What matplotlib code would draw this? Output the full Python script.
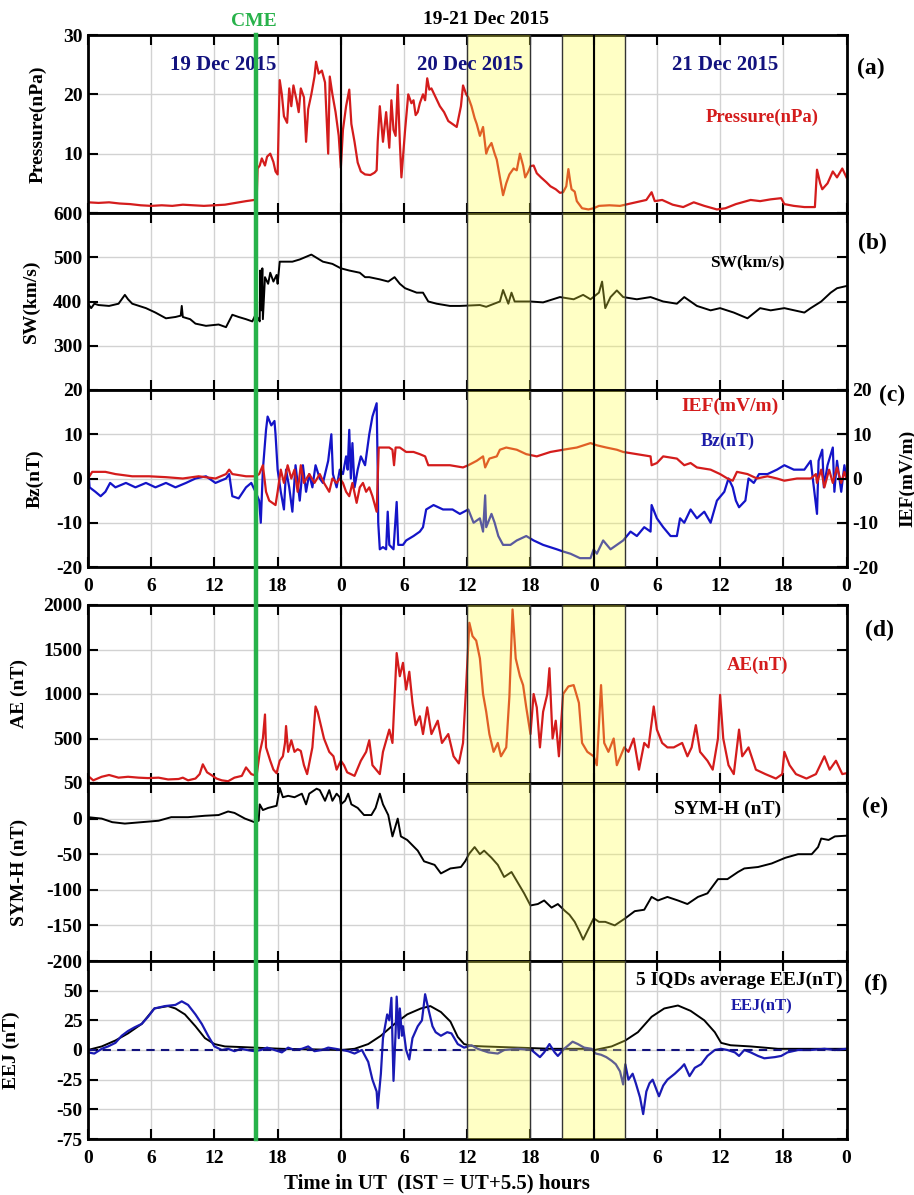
import numpy as np
import matplotlib
matplotlib.use("Agg")
import matplotlib.pyplot as plt
from matplotlib.lines import Line2D

plt.rcParams["font.family"] = ["Liberation Serif", "DejaVu Serif"]
plt.rcParams["font.weight"] = "bold"
plt.rcParams["axes.labelweight"] = "bold"
plt.rcParams["axes.unicode_minus"] = False

# ---------------------------------------------------------------------------
# data: (hour since 19 Dec 00 UT, value)
# ---------------------------------------------------------------------------
pressure = [(0, 1.8), (1, 1.7), (2, 1.8), (3, 1.6), (4, 1.5), (5, 1.3), (6, 1.2), (7, 1.3), (8, 1.2),
            (9, 1.4), (10, 1.3), (11, 1.2), (12, 1.3), (13, 1.4), (14, 1.7), (15, 2.0), (15.8, 2.2),
            (16.0, 1.8), (16.1, 7.5), (16.3, 8.0), (16.5, 9.2), (16.8, 8.0), (17.0, 9.5), (17.3, 10.0),
            (17.6, 8.6), (17.8, 7.0), (18.0, 6.5), (18.1, 15), (18.2, 22.4), (18.4, 20), (18.6, 16.3),
            (18.9, 15.2), (19.1, 21), (19.3, 18), (19.5, 21.5), (19.8, 19), (20.0, 17), (20.2, 21),
            (20.5, 19.5), (20.7, 12), (20.9, 17.5), (21.2, 20), (21.5, 23), (21.65, 25.5), (21.9, 23.5),
            (22.2, 24), (22.5, 22), (22.8, 10), (22.95, 23), (23.2, 20), (23.5, 17), (23.8, 13),
            (24.0, 7.6), (24.2, 14), (24.5, 18), (24.8, 20.8), (25.0, 15), (25.3, 12), (25.6, 8.5),
            (25.9, 7), (26.3, 6.5), (26.8, 6.4), (27.2, 6.8), (27.4, 7.2), (27.5, 12), (27.7, 18),
            (28.0, 12), (28.3, 17), (28.6, 11), (28.8, 19), (29.0, 14), (29.2, 13), (29.4, 21.6),
            (29.6, 12), (29.75, 6.0), (30.1, 14), (30.4, 20), (30.7, 18.5), (30.9, 19), (31.1, 16.5),
            (31.3, 17), (31.5, 18.5), (31.8, 20), (32.0, 19), (32.2, 22.7), (32.4, 20.8), (32.6, 21),
            (33.0, 19.5), (33.4, 18), (33.8, 17), (34.2, 15.5), (34.6, 15), (35.0, 14.5), (35.4, 18),
            (35.6, 21.5), (35.9, 20), (36.1, 19.5), (36.4, 18), (36.7, 16), (36.9, 15), (37.2, 13),
            (37.5, 14.5), (37.8, 10), (38.0, 11), (38.3, 11.8), (38.6, 10), (38.8, 9), (39.1, 6),
            (39.4, 3.0), (39.7, 5), (40.0, 6.5), (40.4, 7.5), (40.7, 7.2), (41.0, 10), (41.3, 8),
            (41.5, 6), (41.8, 7), (42.0, 7.9), (42.3, 8), (42.6, 6.7), (43.0, 6), (43.5, 5.2),
            (43.9, 4.5), (44.4, 4), (44.8, 3.4), (45.1, 3.5), (45.4, 4.5), (45.6, 7.4), (45.8, 5),
            (45.9, 4), (46.2, 3.6), (46.4, 2.0), (46.9, 0.8), (47.5, 0.6), (48.0, 0.8), (48.5, 1.2),
            (49.5, 1.3), (50.5, 1.2), (51.0, 1.4), (52.0, 1.8), (53.0, 2.2), (53.5, 3.5), (53.8, 2.0),
            (54.5, 2.2), (55.5, 1.4), (56.5, 1.0), (57.5, 1.8), (58.5, 1.2), (59.7, 0.6), (60.5, 0.8),
            (61.5, 1.5), (62.9, 2.2), (63.8, 2.0), (64.8, 2.3), (65.8, 2.5), (66.1, 1.5), (67.0, 1.2),
            (68.0, 1.0), (69.0, 1.0), (69.2, 7.3), (69.5, 5), (69.7, 4), (70.2, 5), (70.7, 7),
            (71.1, 6), (71.6, 7.5), (72.0, 6)]

solar_wind = [(0, 395), (0.3, 385), (0.6, 395), (1.0, 392), (2.0, 390), (2.9, 395), (3.5, 415), (3.8, 405),
              (4.2, 395), (5.5, 385), (6.4, 375), (7.4, 362), (8.3, 365), (8.8, 368), (8.9, 390), (9.0, 365),
              (9.7, 360), (10.2, 350), (11.2, 345), (12.4, 348), (13.1, 342), (13.7, 370), (14.3, 365),
              (15.0, 360), (15.6, 355), (15.9, 370), (16.2, 360), (16.3, 355), (16.35, 470), (16.45, 380),
              (16.55, 475), (16.6, 360), (16.8, 455), (17.1, 440), (17.3, 465), (17.6, 445), (17.9, 460),
              (18.0, 440), (18.2, 490), (19.4, 490), (20.1, 495), (21.2, 506), (22.3, 490), (23.2, 485),
              (24.0, 475), (24.8, 470), (25.8, 465), (26.3, 455), (26.7, 455), (27.7, 450), (28.5, 445),
              (29.1, 455), (29.6, 440), (30.1, 430), (31.2, 420), (31.8, 420), (32.3, 400), (33.1, 395),
              (34.35, 390), (35.3, 390), (37.2, 392), (37.8, 388), (39.1, 400), (39.4, 426), (39.9, 395),
              (40.2, 420), (40.5, 400), (42.0, 400), (43.2, 398), (44.8, 410), (46.1, 405), (47.0, 415),
              (47.7, 405), (48.5, 420), (48.8, 445), (49.1, 385), (49.6, 410), (50.2, 425), (50.8, 410),
              (52.1, 405), (53.4, 410), (54.6, 400), (55.9, 395), (56.6, 410), (57.8, 390), (59.1, 380),
              (60.0, 385), (61.3, 375), (62.6, 362), (63.8, 385), (64.8, 380), (66.1, 385), (68.0, 375),
              (68.6, 385), (69.6, 400), (70.5, 420), (71.1, 430), (72.0, 435)]

bz = [(0, 3), (0.15, -2), (0.7, -3), (1.2, -4), (1.65, -3), (2.1, -1), (2.6, -2), (3.6, -1), (4.5, -2),
      (5.5, -1), (6.4, -2), (7.4, -1), (8.3, -2), (9.3, -1), (10.2, 0), (11.2, 0.5), (12.1, -1), (13.1, 0),
      (13.4, 1), (13.7, -4), (14.3, -4.5), (15.0, -2), (15.5, -1), (15.9, -3), (16.25, -5), (16.4, -10),
      (16.6, 2), (16.9, 11), (17.05, 14), (17.4, 12), (17.7, 13), (17.8, 10), (18.0, 2), (18.3, -3),
      (18.6, -7), (18.8, 2), (19.1, -2), (19.4, -7.5), (19.7, 3), (20.1, -5), (20.4, 3), (20.7, -3),
      (21.0, 1), (21.3, -2), (21.6, 3), (22.0, 0), (22.3, -1), (22.8, 4), (23.1, 10), (23.25, 1),
      (23.6, -2), (23.9, 2), (24.2, 1), (24.5, 5), (24.65, 2), (24.8, 11), (24.95, 0), (25.1, 8),
      (25.3, -2), (25.6, 2), (25.9, 5), (26.3, 3), (26.7, 10), (27.0, 14), (27.4, 17), (27.5, 2),
      (27.55, -10), (27.7, -16), (28.0, -15.5), (28.3, -16), (28.45, -7.5), (28.6, -15), (29.0, -16),
      (29.3, -5.3), (29.45, -15), (29.9, -15), (30.2, -14), (30.9, -13), (31.5, -12), (31.8, -11),
      (32.1, -7), (32.8, -6), (33.7, -7), (34.6, -7), (35.3, -8), (36.1, -7), (36.6, -10), (37.2, -9),
      (37.5, -12), (37.7, -3.8), (37.8, -11), (38.3, -8), (38.6, -10), (38.95, -13), (39.4, -15),
      (40.1, -15), (40.7, -14), (41.6, -13), (42.3, -14), (43.2, -15), (44.5, -16), (45.1, -16.5),
      (45.8, -17), (46.7, -18), (47.7, -18), (48.0, -16), (48.3, -17), (48.9, -14), (49.6, -16),
      (50.2, -15), (50.8, -14), (51.5, -12), (52.1, -13), (52.8, -11), (53.4, -12), (53.5, -6),
      (54.0, -9), (54.6, -11), (55.3, -13), (55.9, -13), (56.2, -9), (56.6, -10), (57.2, -7), (57.8, -9),
      (58.5, -7.5), (59.1, -10), (59.7, -5), (60.4, -3), (60.8, 0), (61.2, -2), (61.5, -5), (61.8, -6.5),
      (62.4, -5), (62.7, 0), (63.2, -1), (63.7, 1), (64.5, 1), (65.4, 2), (66.1, 3), (67.0, 2), (68.0, 2),
      (68.6, 4), (68.9, -2), (69.2, -8), (69.35, 4), (69.7, 6.5), (69.85, -2), (70.2, 3), (70.7, 7),
      (70.85, -3), (71.1, 4), (71.5, -3), (71.8, 3), (72.0, 0)]

ief = [(0, 0), (0.4, 1.5), (1.65, 1.5), (2.6, 1), (4.2, 0.5), (5.8, 0.5), (7.4, 0.3), (9.0, 0), (10.5, 0.5),
       (12.1, 0), (13.1, 1), (13.4, 2), (13.7, 1), (15.0, 0.5), (15.9, 0.5), (16.25, 1), (16.6, 3),
       (16.9, -3), (17.2, -5), (17.5, -5.5), (17.8, -6), (18.0, -3), (18.3, 2), (18.6, -1), (18.95, 3),
       (19.3, 0), (19.6, 2), (19.9, -3), (20.2, 3), (20.5, -1), (21.0, 1), (21.5, -1), (22.0, 1),
       (22.4, -1), (22.9, -3), (23.2, 0), (23.6, -1), (23.9, 0), (24.2, -1), (24.5, -3), (24.8, -4),
       (25.1, -1), (25.5, -5.5), (25.8, -2), (26.1, -1), (26.4, -3), (26.7, -2), (27.0, -4), (27.4, -7.5),
       (27.5, 0), (27.6, 7), (28.0, 7), (28.6, 7), (28.9, 6.5), (29.05, 3), (29.2, 7), (29.6, 7), (30.2, 6),
       (30.9, 6), (31.5, 5.5), (32.0, 5), (32.3, 3), (33.4, 3), (34.35, 3), (35.6, 2.5), (36.1, 3),
       (36.9, 4), (37.5, 5), (37.7, 2.5), (38.1, 4.5), (38.8, 5), (39.1, 6.5), (39.7, 7), (40.7, 6.5),
       (41.6, 5.5), (42.6, 5), (43.9, 6), (45.1, 6.5), (46.4, 7), (47.7, 8), (48.3, 7.5), (49.2, 7),
       (50.2, 6.5), (50.8, 6), (52.1, 5.5), (53.4, 5), (53.5, 3), (54.0, 3.5), (54.6, 5), (55.9, 4.5),
       (56.6, 3), (57.2, 3.5), (57.8, 2.5), (59.1, 2), (60.0, 1), (60.7, 0), (61.2, -0.5), (61.6, 1.5),
       (62.6, 1), (63.5, 0), (64.5, 0.5), (65.4, 0), (66.1, -0.5), (67.3, 0), (68.6, 0), (69.1, 1),
       (69.2, -1), (69.6, 2), (69.9, -2), (70.35, 2), (70.7, -1), (71.1, 2.5), (71.5, -1), (71.8, 1.5),
       (72.0, 0)]

ae = [(0, 80), (0.5, 30), (1.3, 70), (2.0, 90), (2.9, 60), (3.8, 70), (4.8, 60), (5.7, 55), (6.7, 60),
      (7.6, 40), (8.6, 45), (9.0, 60), (9.5, 30), (10.2, 50), (10.6, 100), (10.9, 210), (11.3, 120),
      (11.7, 90), (12.2, 50), (12.7, 30), (13.3, 20), (13.9, 60), (14.6, 80), (15.0, 175), (15.5, 100),
      (16.0, 80), (16.3, 340), (16.6, 500), (16.8, 770), (16.9, 400), (17.3, 250), (17.6, 150),
      (17.9, 110), (18.2, 250), (18.5, 300), (18.7, 450), (18.8, 640), (19.0, 350), (19.3, 480),
      (19.6, 350), (19.9, 380), (20.2, 360), (20.5, 200), (20.8, 100), (21.3, 400), (21.6, 860),
      (21.8, 800), (22.1, 650), (22.4, 500), (22.9, 350), (23.3, 300), (23.6, 150), (24.0, 250),
      (24.3, 200), (24.6, 120), (25.3, 80), (25.9, 250), (26.4, 350), (26.7, 480), (27.0, 200),
      (27.7, 100), (28.0, 350), (28.6, 600), (28.9, 450), (29.3, 1460), (29.6, 1200), (29.9, 1350),
      (30.2, 1050), (30.5, 1250), (30.8, 900), (31.1, 650), (31.5, 750), (31.8, 550), (32.2, 850),
      (32.6, 550), (33.2, 700), (33.6, 450), (34.2, 550), (34.7, 300), (35.2, 220), (35.6, 450),
      (35.9, 1100), (36.2, 1800), (36.5, 1650), (36.85, 1600), (37.2, 1400), (37.5, 1000), (37.8, 800),
      (38.1, 550), (38.5, 350), (38.9, 450), (39.2, 300), (39.7, 400), (40.0, 970), (40.3, 1950),
      (40.6, 1400), (41.0, 1200), (41.3, 1100), (41.6, 850), (42.0, 550), (42.3, 1000), (42.6, 850),
      (42.9, 400), (43.2, 800), (43.6, 1000), (43.8, 1290), (44.1, 500), (44.4, 700), (44.7, 300),
      (45.1, 1000), (45.6, 1085), (46.1, 1100), (46.6, 900), (46.9, 450), (47.4, 350), (48.0, 300),
      (48.3, 200), (48.7, 1100), (49.0, 450), (49.4, 350), (49.9, 500), (50.2, 200), (50.9, 400),
      (51.3, 350), (51.8, 500), (52.3, 150), (52.8, 450), (53.2, 400), (53.7, 860), (54.0, 600),
      (54.5, 450), (55.0, 400), (55.6, 400), (56.4, 450), (56.9, 300), (57.3, 400), (57.7, 650),
      (58.1, 350), (58.8, 250), (59.3, 150), (59.8, 500), (60.0, 990), (60.3, 500), (60.8, 200),
      (61.3, 100), (61.8, 600), (62.1, 300), (62.7, 400), (63.4, 150), (64.3, 100), (65.3, 50),
      (65.9, 100), (66.1, 350), (66.6, 200), (67.2, 100), (68.2, 50), (69.1, 100), (69.9, 300),
      (70.4, 150), (71.0, 250), (71.6, 100), (72.0, 110)]

sym_h = [(0, 2), (1.3, 0), (2.3, -5), (3.5, -7), (5.1, -5), (6.7, -3), (7.9, 2), (9.5, 2), (11.1, 4),
         (12.4, 5), (13.3, 10), (13.9, 8), (14.9, 0), (15.8, -5), (16.2, -3), (16.3, 20), (16.6, 12),
         (17.1, 15), (17.9, 18), (18.2, 43), (18.5, 30), (19.0, 32), (19.6, 30), (20.3, 35), (20.7, 20),
         (21.0, 35), (21.7, 42), (22.0, 40), (22.5, 25), (22.9, 40), (23.2, 25), (23.6, 35), (23.9, 30),
         (24.0, 20), (24.4, 25), (24.7, 35), (25.0, 20), (25.6, 15), (26.2, 5), (26.9, 5), (27.3, 15),
         (27.7, 35), (28.0, 20), (28.5, 5), (28.9, -25), (29.4, 0), (29.7, -25), (30.3, -30), (31.3, -45),
         (31.9, -60), (32.9, -65), (33.5, -77), (34.4, -70), (35.4, -68), (35.8, -60), (36.2, -49),
         (36.7, -40), (37.2, -50), (37.6, -45), (38.3, -55), (38.9, -65), (39.5, -82), (40.2, -75),
         (40.8, -90), (41.4, -105), (42.0, -122), (42.7, -120), (43.3, -115), (44.0, -125), (44.6, -120),
         (45.3, -130), (45.7, -135), (46.2, -145), (46.7, -160), (47.0, -170), (47.5, -155), (48.0, -140),
         (48.5, -145), (49.1, -145), (50.0, -150), (51.0, -140), (51.9, -130), (52.8, -128), (53.5, -110),
         (54.1, -115), (55.0, -110), (56.0, -115), (56.9, -120), (57.9, -110), (58.8, -105), (59.8, -85),
         (60.7, -85), (61.7, -75), (62.3, -70), (63.6, -68), (64.9, -63), (66.2, -55), (67.4, -50),
         (68.7, -50), (69.3, -40), (69.6, -28), (70.3, -30), (70.9, -25), (72.0, -24)]

eej_quiet = [(0, 0), (1.3, 3), (2.6, 8), (3.8, 14), (5.1, 22), (6.3, 35), (7.6, 37), (8.3, 35), (9.2, 30),
             (10.2, 20), (11.1, 10), (12.0, 5), (13.0, 3), (14.5, 2.5), (15.8, 2), (18.4, 1), (21.5, 0.5),
             (24.0, 0), (25.3, 1), (26.6, 5), (27.8, 12), (29.1, 22), (30.3, 30), (31.6, 35), (32.5, 37),
             (33.5, 32), (34.4, 24), (35.1, 11), (35.7, 5), (36.4, 3.5), (37.6, 3), (40.8, 2), (44.0, 1),
             (47.1, 1), (48.1, 0), (49.7, 3), (51.0, 8), (52.2, 15), (53.5, 28), (54.7, 35), (56.0, 37.5),
             (57.2, 33), (58.5, 25), (59.5, 15), (60.1, 6), (61.0, 4), (62.9, 3), (65.5, 1), (67.7, 1),
             (72.0, 1)]

eej_storm = [(0, -2), (0.6, -3), (1.3, 1), (1.9, 3), (2.6, 6), (3.2, 12), (3.8, 16), (4.4, 19), (5.1, 22),
             (5.7, 28), (6.3, 35), (7.3, 37), (8.3, 38), (8.9, 41), (9.5, 38), (10.2, 30), (10.8, 22),
             (11.4, 12), (12.0, 3), (12.7, 0), (13.3, 1), (13.9, -1), (14.5, 1), (15.1, 0), (15.8, -1),
             (16.4, 0), (17.0, 2), (17.7, 0), (18.4, -2), (19.0, 2), (19.6, 0), (20.3, 1), (20.9, 3),
             (21.5, -1), (22.2, 0), (22.8, 2), (23.5, 1), (24.1, 0), (24.7, -1), (25.3, -3), (26.0, 0),
             (26.6, -10), (27.0, -25), (27.4, -35), (27.5, -49), (27.8, -20), (28.0, 10), (28.4, 30),
             (28.6, 25), (28.8, 44), (29.0, -26), (29.2, 15), (29.3, 45), (29.5, 10), (29.6, 35), (29.8, 12),
             (29.9, 20), (30.2, 0), (30.5, -8), (30.8, 10), (31.3, 20), (31.7, 25), (32.0, 47), (32.3, 35),
             (32.7, 20), (33.0, 15), (33.5, 12), (34.1, 15), (34.5, 14), (35.1, 5), (35.7, 2), (36.4, 4),
             (37.0, 1), (38.0, -2), (38.9, -3), (39.5, 0), (40.8, 1), (42.1, 0), (42.9, -6), (43.3, -2),
             (43.8, 5), (44.3, -2), (44.6, -5), (45.2, 1), (46.0, 7), (46.5, 5), (47.1, 2), (47.8, 1),
             (48.2, -3), (48.7, -4), (49.2, -6), (49.7, -9), (50.1, -12), (50.5, -18), (50.8, -29),
             (51.0, -12), (51.3, -25), (51.7, -20), (52.0, -28), (52.4, -40), (52.7, -54), (53.0, -35),
             (53.3, -28), (53.6, -25), (53.9, -32), (54.2, -39), (54.6, -30), (55.0, -25), (55.7, -20),
             (56.3, -15), (56.6, -12), (57.1, -22), (57.6, -15), (58.2, -12), (58.8, -5), (59.5, 0),
             (60.1, 1), (60.7, 0), (61.4, -2), (61.8, -5), (62.3, 0), (62.9, -2), (63.6, -5), (64.2, -7),
             (65.2, -6), (65.8, -5), (66.4, -2), (67.4, 0), (68.6, 0), (69.9, 1), (70.9, 0), (72.0, 1)]

hour_ticks = [0, 6, 12, 18, 24, 30, 36, 42, 48, 54, 60, 66, 72]
hour_labels = ["0", "6", "12", "18", "0", "6", "12", "18", "0", "6", "12", "18", "0"]
day_labels = ["19 Dec 2015", "20 Dec 2015", "21 Dec 2015"]
day_label_x = [12.8, 36.3, 60.5]
shaded = [(36, 42), (45, 51)]
day_lines = [24, 48]
cme_hour = 15.95

RED = "#d41c1c"
BLUE = "#1414c8"
NAVY = "#12127e"
GREEN = "#27b24a"


def xy(pairs):
    arr = np.array(pairs, dtype=float)
    return arr[:, 0], arr[:, 1]


# ---------------------------------------------------------------------------
# layout (pixel boxes of the original figure)
# ---------------------------------------------------------------------------
FW, FH = 914, 1195
fig = plt.figure(figsize=(FW / 100, FH / 100), dpi=100)
X0, X1 = 88, 846.5
boxes = [(35, 213), (213, 390), (390, 567), (605, 783), (783, 961), (961, 1139)]
axes = []
for top, bot in boxes:
    ax = fig.add_axes([X0 / FW, 1 - bot / FH, (X1 - X0) / FW, (bot - top) / FH])
    axes.append(ax)
ax_p, ax_sw, ax_bz, ax_ae, ax_sym, ax_eej = axes


def style(ax, show_x):
    ax.set_xlim(0, 72)
    ax.set_xticks(hour_ticks)
    ax.set_xticklabels(hour_labels if show_x else [])
    ax.grid(True, color="#d2d2d2", lw=1.0)
    ax.set_axisbelow(True)
    ax.tick_params(direction="in", top=True, right=True, length=7, width=1.5,
                   labelsize=14, pad=4)
    ax.tick_params(axis="x", pad=8)
    for s in ax.spines.values():
        s.set_linewidth(2)
    for a, b in shaded:
        ax.axvspan(a, b, color="#ffff40", alpha=0.3, lw=0, zorder=3)
        ax.axvline(a, color="#333333", lw=1.0, zorder=4)
        ax.axvline(b, color="#333333", lw=1.0, zorder=4)
    for d in day_lines:
        ax.axvline(d, color="black", lw=1.5, zorder=4)


# (a) pressure -- its bottom "0" sits on the "600" of panel (b)
t, v = xy(pressure)
ax_p.plot(t, v, color=RED, lw=1.6, zorder=2)
ax_p.set_ylim(0, 30)
ax_p.set_yticks([0, 10, 20, 30])
ax_p.set_yticklabels(["", "10", "20", "30"])
ax_p.set_ylabel("Pressure(nPa)", fontsize=14)
ax_p.yaxis.set_label_coords(-0.054, 0.5)
for lab, x in zip(day_labels, day_label_x):
    ax_p.text(x, 25, lab, color=NAVY, fontsize=15, ha="center", va="center", zorder=5)
ax_p.text(64.0, 16.1, "Pressure(nPa)", color=RED, fontsize=13.5, ha="center", va="center", zorder=5)

# (b) solar wind
t, v = xy(solar_wind)
ax_sw.plot(t, v, color="black", lw=1.4, zorder=2)
ax_sw.set_ylim(200, 600)
ax_sw.set_yticks([300, 400, 500, 600])
ax_sw.set_ylabel("SW(km/s)", fontsize=14)
ax_sw.yaxis.set_label_coords(-0.063, 0.5)
ax_sw.text(62.6, 489, "SW(km/s)", color="black", fontsize=12.5, ha="center", va="center", zorder=5)

# (c) Bz and IEF
t, v = xy(bz)
ax_bz.plot(t, v, color=BLUE, lw=1.6, zorder=2)
t, v = xy(ief)
ax_bz.plot(t, v, color=RED, lw=1.6, zorder=2)
ax_bz.set_ylim(-20, 20)
ax_bz.set_yticks([-20, -10, 0, 10, 20])
ax_bz.set_ylabel("Bz(nT)", fontsize=14)
ax_bz.yaxis.set_label_coords(-0.059, 0.5)
ax_bz.text(60.9, 16.2, "IEF(mV/m)", color=RED, fontsize=14, ha="center", va="center", zorder=5)
ax_bz.text(60.7, 8.3, "Bz(nT)", color="#1c1ca8", fontsize=13, ha="center", va="center", zorder=5)
ax_ief = ax_bz.twinx()
ax_ief.set_ylim(-20, 20)
ax_ief.set_yticks([-20, -10, 0, 10, 20])
ax_ief.tick_params(direction="in", length=7, width=1.5, labelsize=14, pad=4)
ax_ief.set_ylabel("IEF(mV/m)", fontsize=14)
ax_ief.yaxis.set_label_coords(1.069, 0.5)

# (d) AE -- its bottom "0" sits on the "50" of panel (e)
t, v = xy(ae)
ax_ae.plot(t, v, color=RED, lw=1.6, zorder=2)
ax_ae.set_ylim(0, 2000)
ax_ae.set_yticks([0, 500, 1000, 1500, 2000])
ax_ae.set_yticklabels(["", "500", "1000", "1500", "2000"])
ax_ae.set_ylabel("AE (nT)", fontsize=14)
ax_ae.yaxis.set_label_coords(-0.079, 0.5)
ax_ae.text(63.6, 1324, "AE(nT)", color=RED, fontsize=13.5, ha="center", va="center", zorder=5)

# (e) SYM-H
t, v = xy(sym_h)
ax_sym.plot(t, v, color="black", lw=1.4, zorder=2)
ax_sym.set_ylim(-200, 50)
ax_sym.set_yticks([-200, -150, -100, -50, 0, 50])
ax_sym.set_ylabel("SYM-H (nT)", fontsize=14)
ax_sym.yaxis.set_label_coords(-0.079, 0.5)
ax_sym.text(60.7, 13.5, "SYM-H (nT)", color="black", fontsize=14, ha="center", va="center", zorder=5)

# (f) EEJ
t, v = xy(eej_quiet)
ax_eej.plot(t, v, color="black", lw=1.4, zorder=2)
t, v = xy(eej_storm)
ax_eej.plot(t, v, color="#1a1ab4", lw=1.6, zorder=2)
ax_eej.axhline(0, color=NAVY, lw=1.5, ls=(0, (4, 3)), zorder=2)
ax_eej.set_ylim(-75, 75)
ax_eej.set_yticks([-75, -50, -25, 0, 25, 50])
ax_eej.set_ylabel("EEJ (nT)", fontsize=14)
ax_eej.yaxis.set_label_coords(-0.09, 0.5)
ax_eej.text(61.8, 59, "5 IQDs average EEJ(nT)", color="black", fontsize=14, ha="center", va="center", zorder=5)
ax_eej.text(63.9, 36.5, "EEJ(nT)", color="#1c1ca8", fontsize=12, ha="center", va="center", zorder=5)

for ax, show in zip(axes, [False, False, True, False, False, True]):
    style(ax, show)

# panel letters
for lab, px, py in [("(a)", 871, 68), ("(b)", 872, 243), ("(c)", 892, 395),
                    ("(d)", 879, 630), ("(e)", 875, 807), ("(f)", 876, 984)]:
    fig.text(px / FW, 1 - py / FH, lab, fontsize=17, ha="center", va="center")

# CME line through all panels
xf = (X0 + (X1 - X0) * cme_hour / 72) / FW
fig.add_artist(Line2D([xf, xf], [1 - 1139 / FH, 1 - 35 / FH], transform=fig.transFigure,
                      color=GREEN, lw=3.2, zorder=10))
fig.text(254 / FW, 1 - 22 / FH, "CME", color=GREEN, fontsize=14, ha="center", va="center")
fig.text(486 / FW, 1 - 20 / FH, "19-21 Dec 2015", color="black", fontsize=14, ha="center", va="center")
fig.text(437 / FW, 1 - 1183 / FH, "Time in UT  (IST = UT+5.5) hours", color="black", fontsize=15,
         ha="center", va="center")

fig.savefig("out.png", dpi=100)
